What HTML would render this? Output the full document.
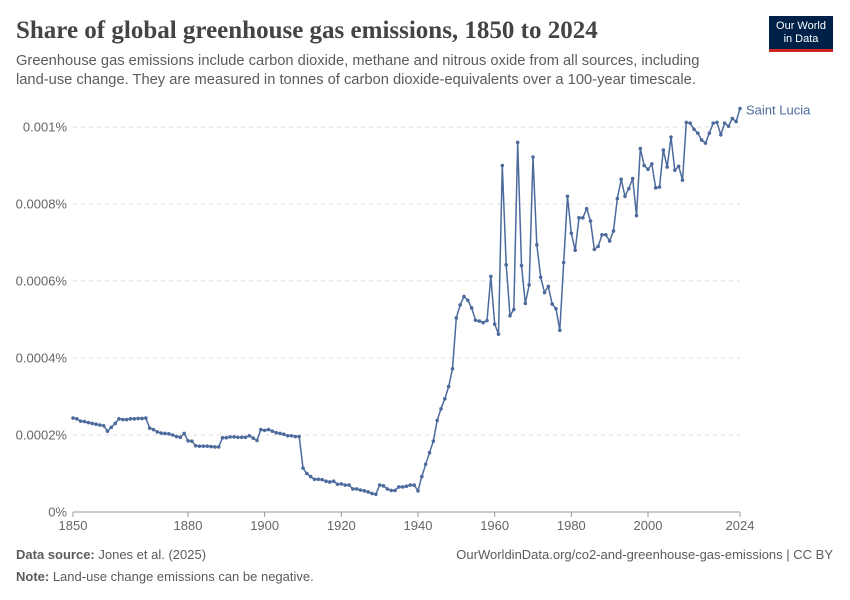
<!DOCTYPE html>
<html><head><meta charset="utf-8"><style>
body{margin:0;width:850px;height:600px;background:#fff;font-family:"Liberation Sans",sans-serif;position:relative;overflow:hidden}
.t{position:absolute;white-space:nowrap}
</style></head><body>
<div class="t" style="left:16px;top:17px;font-family:'Liberation Serif',serif;font-size:25px;font-weight:bold;color:#444">Share of global greenhouse gas emissions, 1850 to 2024</div>
<div class="t" style="left:16px;top:52px;font-size:14.7px;line-height:19px;color:#5b5b5b">Greenhouse gas emissions include carbon dioxide, methane and nitrous oxide from all sources, including<br>land-use change. They are measured in tonnes of carbon dioxide-equivalents over a 100-year timescale.</div>
<div style="position:absolute;left:769px;top:16px;width:64px;height:36px;background:#002147;border-bottom:3px solid #ce261e;color:#fff;font-size:11px;line-height:13px;text-align:center;padding-top:4px;box-sizing:border-box">Our World<br>in Data</div>
<svg id="c" width="850" height="600" style="position:absolute;left:0;top:0"></svg>
<div class="t" style="left:16px;top:547px;font-size:13px;color:#5b5b5b"><b>Data source:</b> Jones et al. (2025)</div>
<div class="t" style="right:17px;top:547px;font-size:13px;color:#5b5b5b">OurWorldinData.org/co2-and-greenhouse-gas-emissions | CC BY</div>
<div class="t" style="left:16px;top:569px;font-size:13px;color:#5b5b5b"><b>Note:</b> Land-use change emissions can be negative.</div>
<script>
const startYear=1850;
const values=[2.44,2.42,2.36,2.35,2.32,2.30,2.28,2.26,2.24,2.10,2.20,2.30,2.42,2.40,2.40,2.42,2.42,2.43,2.43,2.44,
2.18,2.14,2.08,2.05,2.04,2.03,2.00,1.96,1.94,2.04,1.85,1.84,1.72,1.71,1.71,1.71,1.70,1.69,1.69,1.93,
1.93,1.95,1.95,1.94,1.94,1.94,1.98,1.92,1.86,2.14,2.12,2.14,2.10,2.06,2.04,2.02,1.98,1.98,1.96,1.96,
1.14,1.00,0.92,0.85,0.85,0.84,0.80,0.78,0.80,0.72,0.73,0.70,0.70,0.60,0.60,0.57,0.55,0.52,0.48,0.46,
0.70,0.68,0.60,0.56,0.56,0.65,0.65,0.67,0.70,0.70,0.55,0.92,1.24,1.54,1.84,2.38,2.68,2.94,3.26,3.72,
5.04,5.38,5.60,5.50,5.30,4.98,4.96,4.92,4.97,6.12,4.88,4.62,9.00,6.42,5.10,5.26,9.60,6.40,5.42,5.90,
9.22,6.94,6.10,5.70,5.86,5.40,5.28,4.72,6.48,8.20,7.24,6.80,7.64,7.64,7.88,7.56,6.82,6.90,7.20,7.20,
7.04,7.30,8.14,8.64,8.20,8.40,8.66,7.70,9.44,9.00,8.90,9.04,8.42,8.44,9.40,8.96,9.74,8.88,8.98,8.62,
10.12,10.10,9.94,9.84,9.66,9.58,9.84,10.10,10.12,9.80,10.10,10.02,10.22,10.14,10.48];
const yTicks=[0,2,4,6,8,10];
const yTickLabels=["0%","0.0002%","0.0004%","0.0006%","0.0008%","0.001%"];
const xTicks=[1850,1880,1900,1920,1940,1960,1980,2000,2024];
const svg=document.getElementById('c');const NS='http://www.w3.org/2000/svg';
const X=y=>73+(y-1850)*(740-73)/174;
const Y=v=>512-v*38.5;
function mk(t,a,p){const e=document.createElementNS(NS,t);for(const k in a)e.setAttribute(k,a[k]);(p||svg).appendChild(e);return e;}
yTicks.forEach((v,i)=>{
 if(v>0){const l=mk('line',{x1:73,x2:740,y1:Y(v),y2:Y(v),stroke:'#ddd','stroke-dasharray':'4,4'});
 
 }
 const t=mk('text',{x:67,y:Y(v)+4.5,'text-anchor':'end','font-size':13,fill:'#666','font-family':'Liberation Sans,sans-serif'});t.textContent=yTickLabels[i];
 
 
});
const ax=mk('line',{x1:73,x2:740,y1:512,y2:512,stroke:'#999'});


xTicks.forEach(yr=>{
 mk('line',{x1:X(yr),x2:X(yr),y1:512,y2:517,stroke:'#999'});
 const t=mk('text',{x:X(yr),y:530,'text-anchor':'middle','font-size':13,fill:'#666','font-family':'Liberation Sans,sans-serif'});t.textContent=yr;
 
 
});
const pts=values.map((v,i)=>X(startYear+i).toFixed(1)+','+Y(v).toFixed(1)).join(' ');
const pl=mk('polyline',{points:pts,fill:'none',stroke:'#4c6a9c','stroke-width':1.5});


values.forEach((v,i)=>{const c=mk('circle',{cx:X(startYear+i),cy:Y(v),r:1.8,fill:'#4c6a9c'});
 
 });
const lab=mk('text',{x:746,y:Y(values[values.length-1])+6,'font-size':13,fill:'#4c6a9c','font-family':'Liberation Sans,sans-serif'});lab.textContent='Saint Lucia';


</script>
</body></html>
